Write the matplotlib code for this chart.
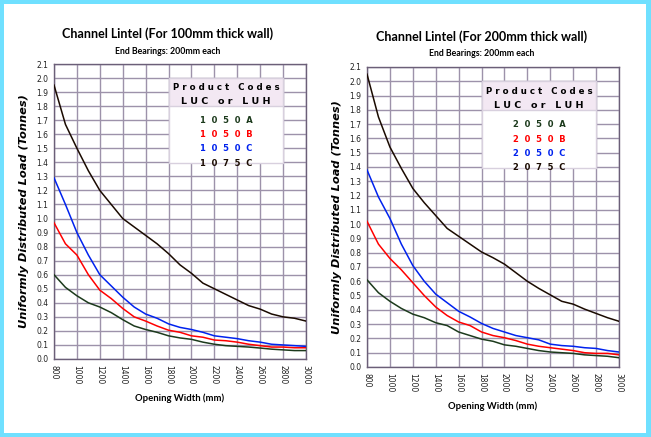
import matplotlib.pyplot as plt
from matplotlib.patches import Rectangle

# ---- dados ----
largura = [800, 900, 1000, 1100, 1200, 1300, 1400, 1500, 1600, 1700, 1800,
           1900, 2000, 2100, 2200, 2300, 2400, 2500, 2600, 2700, 2800, 2900, 3000]

# parede 100mm
p100_1050A = [0.60, 0.51, 0.45, 0.40, 0.37, 0.33, 0.28, 0.235, 0.21, 0.19, 0.165,
              0.15, 0.14, 0.12, 0.105, 0.095, 0.09, 0.085, 0.078, 0.07, 0.065, 0.06, 0.06]
p100_1050B = [0.97, 0.82, 0.74, 0.60, 0.49, 0.43, 0.36, 0.30, 0.27, 0.235, 0.205,
              0.19, 0.165, 0.155, 0.135, 0.13, 0.12, 0.105, 0.095, 0.085, 0.085, 0.08, 0.08]
p100_1050C = [1.29, 1.10, 0.90, 0.74, 0.60, 0.52, 0.44, 0.37, 0.32, 0.29, 0.25,
              0.225, 0.21, 0.19, 0.165, 0.155, 0.145, 0.13, 0.12, 0.105, 0.10, 0.095, 0.09]
p100_1075C = [1.95, 1.67, 1.50, 1.34, 1.20, 1.10, 1.00, 0.94, 0.88, 0.82, 0.75,
              0.67, 0.61, 0.54, 0.50, 0.46, 0.42, 0.38, 0.355, 0.32, 0.30, 0.29, 0.27]

# parede 200mm
p200_2050A = [0.61, 0.52, 0.46, 0.41, 0.37, 0.345, 0.31, 0.29, 0.245, 0.22, 0.195,
              0.18, 0.155, 0.145, 0.13, 0.115, 0.105, 0.10, 0.095, 0.085, 0.08, 0.075, 0.065]
p200_2050B = [1.02, 0.86, 0.76, 0.68, 0.59, 0.50, 0.42, 0.36, 0.315, 0.29, 0.245,
              0.22, 0.205, 0.185, 0.16, 0.145, 0.135, 0.125, 0.115, 0.10, 0.095, 0.095, 0.085]
p200_2050C = [1.38, 1.19, 1.04, 0.86, 0.71, 0.60, 0.51, 0.45, 0.39, 0.35, 0.305,
              0.27, 0.245, 0.22, 0.205, 0.19, 0.16, 0.15, 0.145, 0.135, 0.13, 0.115, 0.105]
p200_2075C = [2.05, 1.75, 1.54, 1.39, 1.25, 1.15, 1.06, 0.97, 0.915, 0.86, 0.805,
              0.765, 0.72, 0.66, 0.60, 0.55, 0.505, 0.46, 0.44, 0.405, 0.375, 0.345, 0.32]

codigos_100 = ["1050A", "1050B", "1050C", "1075C"]
codigos_200 = ["2050A", "2050B", "2050C", "2075C"]
cores = ["#1c3a1c", "#ff0000", "#0022ee", "#1a0a00"]

W, H = 651, 437
fig = plt.figure(figsize=(W / 100, H / 100), dpi=100)
fig.patch.set_facecolor("#6fe0ff")

# painel branco dentro da borda ciano
fig.add_artist(Rectangle((4 / W, 4 / H), 1 - 9 / W, 1 - 8 / H, transform=fig.transFigure,
                         facecolor="white", edgecolor="none", zorder=0))

fonte = "Lato"
grade = "#9d92aa"


def espacar(s, n=2):
    return (" " * n).join(s)


def painel(px0, px1, py_top, py_bot, series, codigos, titulo, cx):
    ax = fig.add_axes([px0 / W, 1 - py_bot / H, (px1 - px0) / W, (py_bot - py_top) / H])
    ax.set_xlim(800, 3000)
    ax.set_ylim(0, 2.1)
    ax.set_xticks(range(800, 3001, 200))
    ax.set_yticks([i / 10 for i in range(22)])
    ax.set_yticklabels(["%.1f" % (i / 10) for i in range(22)])
    ax.tick_params(axis="x", labelrotation=270, labelsize=5.5, length=0, pad=4,
                   labelcolor="#222222")
    ax.tick_params(axis="y", labelsize=5.5, length=0, pad=4, labelcolor="#222222")
    for lab in ax.get_xticklabels() + ax.get_yticklabels():
        lab.set_fontfamily("DejaVu Sans")
    ax.grid(True, color=grade, linewidth=1.0)
    ax.set_axisbelow(True)
    for s in ax.spines.values():
        s.set_color("#6b5f78")
        s.set_linewidth(1.0)

    for y, c in zip(series, cores):
        ax.plot(largura, y, color=c, linewidth=1.1, zorder=3)

    ax.set_xlabel("Opening Width (mm)", fontfamily=fonte, fontweight="bold",
                  fontsize=6.8, labelpad=7)
    ax.set_ylabel("Uniformly Distributed Load (Tonnes)", fontfamily="DejaVu Sans",
                  fontweight="bold", fontstyle="italic", fontsize=8.2, labelpad=5)

    # legenda
    lx0, lx1, ly0, ly1, lyh = 0.456, 0.91, 0.663, 0.953, 0.856
    ax.add_patch(Rectangle((lx0, ly0), lx1 - lx0, ly1 - ly0, transform=ax.transAxes,
                           facecolor="white", edgecolor="#d8d0de", linewidth=1.0, zorder=4))
    ax.add_patch(Rectangle((lx0, lyh), lx1 - lx0, ly1 - lyh, transform=ax.transAxes,
                           facecolor="#f3e8f3", edgecolor="#d8d0de", linewidth=1.0, zorder=4))
    xm = (lx0 + lx1) / 2
    ax.text(xm, ly1 - 0.033, "P r o d u c t   C o d e s", transform=ax.transAxes,
            ha="center", va="center", fontsize=6.2, fontweight="bold",
            fontfamily="DejaVu Sans", zorder=5)
    ax.text(xm, ly1 - 0.08, "L U C   o r   L U H", transform=ax.transAxes,
            ha="center", va="center", fontsize=6.8, fontweight="bold",
            fontfamily="DejaVu Sans", zorder=5)
    for k, (cod, c) in enumerate(zip(codigos, cores)):
        ax.text(xm, lyh - 0.048 - k * 0.048, espacar(cod), transform=ax.transAxes,
                ha="center", va="center", fontsize=6.0, fontweight="bold",
                fontfamily="DejaVu Sans", color=c, zorder=5)

    fig.text(cx / W, 1 - (py_top - 30) / H, titulo, ha="center", va="center",
             fontfamily=fonte, fontweight="bold", fontsize=9.0)
    fig.text(cx / W, 1 - (py_top - 13) / H, "End Bearings: 200mm each", ha="center",
             va="center", fontfamily=fonte, fontweight="bold", fontsize=6.3)
    return ax


painel(54, 306, 64, 359, [p100_1050A, p100_1050B, p100_1050C, p100_1075C],
       codigos_100, "Channel Lintel (For 100mm thick wall)", 168)
painel(367, 619, 67, 367, [p200_2050A, p200_2050B, p200_2050C, p200_2075C],
       codigos_200, "Channel Lintel (For 200mm thick wall)", 482)

fig.savefig("out.png", dpi=100, facecolor=fig.get_facecolor())
print("out.png")
